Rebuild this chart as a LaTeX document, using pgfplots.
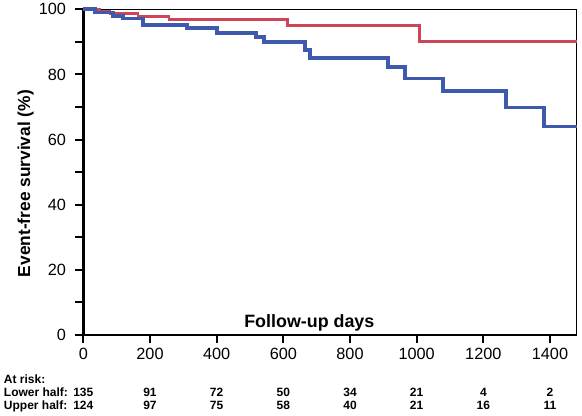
\documentclass[border=0pt]{standalone}
\usepackage{pgfplots}
\pgfplotsset{compat=1.18}
\usepackage{fontspec}
\setmainfont{Liberation Sans}
\definecolor{kmred}{RGB}{208,68,88}
\definecolor{kmblue}{RGB}{62,90,172}
\begin{document}
\begin{tikzpicture}
\useasboundingbox (-62.5pt,-60pt) rectangle (374pt,251.3pt);
\begin{axis}[
  name=ax,
  scale only axis,
  width=370pt, height=244.3pt,
  xmin=0, xmax=1480, ymin=0, ymax=100,
  xtick={0,200,...,1400},
  ytick={0,20,...,100},
  minor ytick={10,30,...,90},
  xtick pos=bottom, ytick pos=left,
  tick align=outside,
  major tick length=6pt, minor tick length=6pt,
  major tick style={line width=1.5pt, black},
  minor tick style={line width=1.5pt, black},
  axis line style={line width=1pt, black},
  /pgf/number format/assume math mode=true,
  /pgf/number format/1000 sep={},
  ticklabel style={font=\fontsize{12.2}{14}\selectfont},
  yticklabel style={xshift=-3.5pt},
  ylabel={Event-free survival (\%)},
  ylabel style={font=\fontsize{13}{15}\selectfont\bfseries,
    at={(axis description cs:-0.117,0.465)}, anchor=center},
  clip=false,
]
\draw[line width=2pt, black] (rel axis cs:0,1) -- (rel axis cs:0,0) -- (rel axis cs:1,0);

\addplot[const plot, kmred, line width=2.2pt] coordinates {
  (0,100) (50,99.3) (80,98.8) (164,97.9) (257,96.9) (612,94.9) (1008,90.0) (1480,90.0)
};
\addplot[const plot, kmblue, line width=2.8pt] coordinates {
  (0,100) (35,99.0) (89,97.9) (119,97.2) (179,95.2) (311,94.2) (401,92.8)
  (519,91.6) (543,90.0) (665,87.5) (680,85.1) (914,82.4) (964,78.8)
  (1078,75.0) (1267,69.9) (1381,64.0) (1480,64.0)
};

\node[anchor=base, inner sep=0pt, font=\fontsize{13.4}{15}\selectfont\bfseries]
  at (axis cs:678,2.2) {Follow-up days};

\begin{scope}[every node/.style={inner sep=0pt, font=\fontsize{9}{11}\selectfont\bfseries}]
\node[anchor=base west] at (axis cs:-239,-14.72) {At risk:};
\node[anchor=base west] at (axis cs:-239,-18.71) {Lower half:};
\node[anchor=base west] at (axis cs:-239,-22.70) {Upper half:};
\node[anchor=base] at (axis cs:0,-18.71) {135};
\node[anchor=base] at (axis cs:200,-18.71) {91};
\node[anchor=base] at (axis cs:400,-18.71) {72};
\node[anchor=base] at (axis cs:600,-18.71) {50};
\node[anchor=base] at (axis cs:800,-18.71) {34};
\node[anchor=base] at (axis cs:1000,-18.71) {21};
\node[anchor=base] at (axis cs:1200,-18.71) {4};
\node[anchor=base] at (axis cs:1400,-18.71) {2};
\node[anchor=base] at (axis cs:0,-22.70) {124};
\node[anchor=base] at (axis cs:200,-22.70) {97};
\node[anchor=base] at (axis cs:400,-22.70) {75};
\node[anchor=base] at (axis cs:600,-22.70) {58};
\node[anchor=base] at (axis cs:800,-22.70) {40};
\node[anchor=base] at (axis cs:1000,-22.70) {21};
\node[anchor=base] at (axis cs:1200,-22.70) {16};
\node[anchor=base] at (axis cs:1400,-22.70) {11};
\end{scope}
\end{axis}
\end{tikzpicture}
\end{document}
